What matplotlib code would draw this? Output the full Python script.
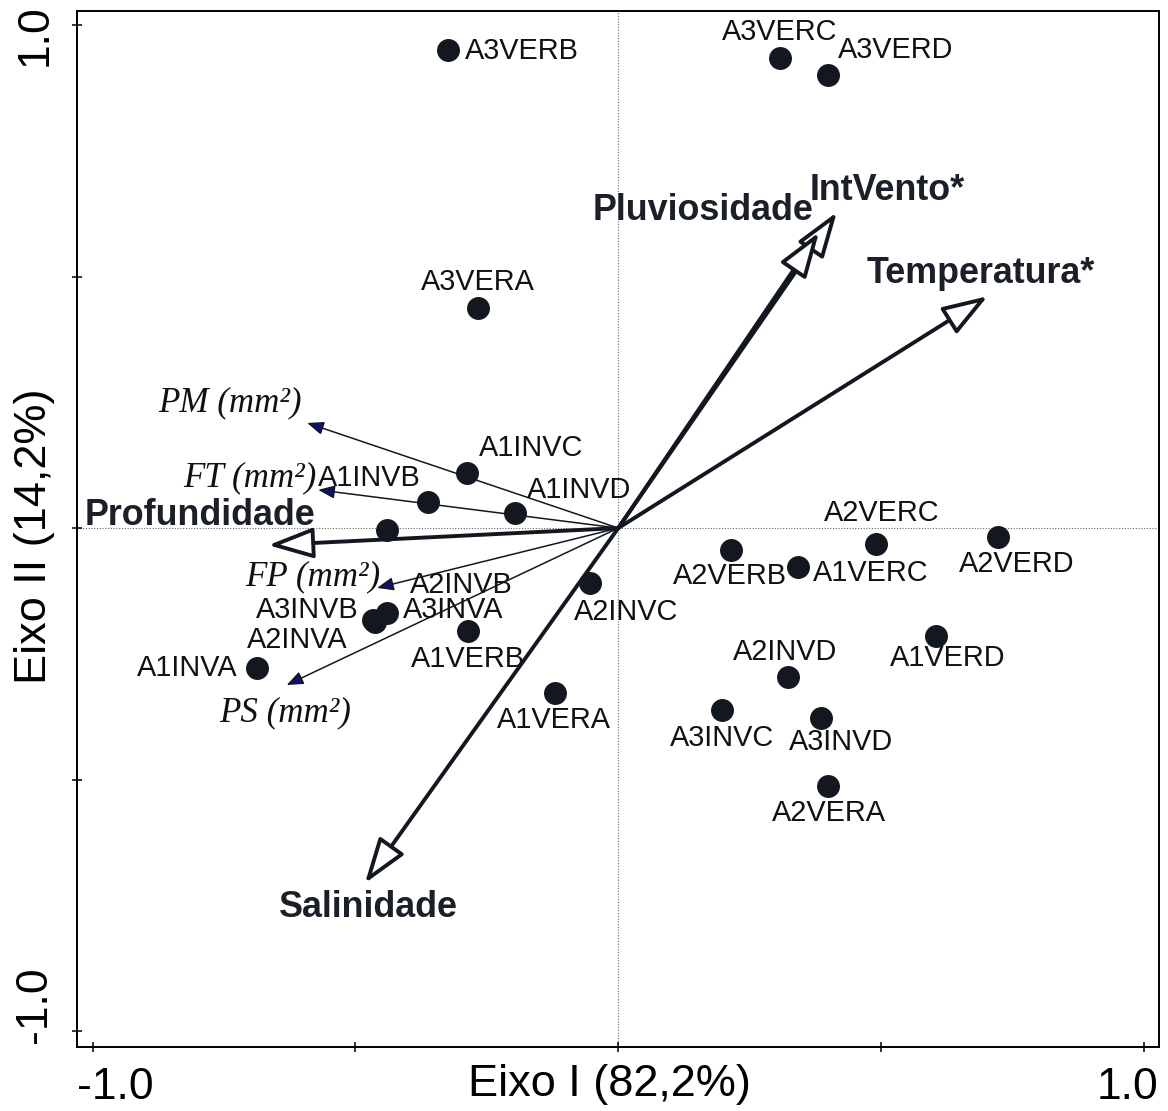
import numpy as np
import matplotlib.pyplot as plt
from matplotlib.transforms import ScaledTranslation


# sample scores (Eixo I, Eixo II)
samples = ["A3VERB", "A3VERC", "A3VERD", "A3VERA", "A1INVC", "A1INVB",
           "A1INVD", "A2INVB", "A3INVA", "A3INVB", "A2INVA", "A1INVA",
           "A1VERB", "A1VERA", "A2INVC", "A2VERB", "A1VERC", "A2VERC",
           "A2VERD", "A2INVD", "A1VERD", "A3INVC", "A3INVD", "A2VERA"]
samp_x = [-0.324, 0.307, 0.399, -0.267, -0.288, -0.362,
          -0.197, -0.440, -0.440, -0.467, -0.463, -0.688,
          -0.286, -0.121, -0.054, 0.214, 0.342, 0.490,
          0.723, 0.323, 0.604, 0.197, 0.385, 0.400]
samp_y = [0.950, 0.934, 0.901, 0.437, 0.109, 0.052,
          0.030, -0.004, -0.169, -0.183, -0.187, -0.278,
          -0.205, -0.328, -0.109, -0.044, -0.078, -0.032,
          -0.018, -0.296, -0.214, -0.362, -0.378, -0.513]

# environmental variables
env_names = ["IntVento*", "Pluviosidade", "Temperatura*", "Profundidade", "Salinidade"]
env_x = [0.416, 0.382, 0.703, -0.666, -0.482]
env_y = [0.628, 0.588, 0.461, -0.034, -0.706]

# species variables
spp_names = ["PM (mm²)", "FT (mm²)", "FP (mm²)", "PS (mm²)"]
spp_x = [-0.592, -0.571, -0.459, -0.631]
spp_y = [0.209, 0.076, -0.119, -0.312]

# label offsets in pixels (layout only)
samp_off = [(74, -1), (0, 26), (68, 25), (0, 26), (64, 25), (-59, 24),
            (64, 23), (74, -55), (66, 3), (-66, 10), (-78, -18), (-69, 0),
            (0, -28), (-1, -27), (36, -29), (-1, -26), (73, -6), (6, 31),
            (18, -27), (-3, 25), (12, -22), (0, -28), (20, -24), (0, -27)]
env_off = [(50, 22), (-116, 22), (-7, 23), (-68, 30), (3, -24)]
spp_off = [(-77, 20), (-68, 12), (-64, 11), (-2, -28)]

dark = "#131720"

fig = plt.figure(figsize=(11.68, 11.11), dpi=100)
ax = fig.add_axes([0.0659, 0.0579, 0.9264, 0.9322])
ax.set_xlim(-1.030, 1.029)
ax.set_ylim(-1.031, 1.028)

ax.axhline(0, color="#666666", lw=0.8, ls=(0, (1, 1.5)), zorder=1)
ax.axvline(0, color="#666666", lw=0.8, ls=(0, (1, 1.5)), zorder=1)

# sample labels
for name, x, y, off in zip(samples, samp_x, samp_y, samp_off):
    ax.annotate(name, (x, y), xytext=off, textcoords="offset pixels",
                ha="center", va="center", fontsize=20.8, color="#111111",
                family="Liberation Sans", zorder=2)

# environmental arrows (open heads)
for name, x, y, off in zip(env_names, env_x, env_y, env_off):
    ax.annotate("", xy=(x, y), xytext=(0, 0),
                arrowprops=dict(arrowstyle="-|>,head_length=28,head_width=9.5",
                                mutation_scale=1, lw=2.8, fc="white", ec=dark,
                                shrinkA=0, shrinkB=0), zorder=3)
    ax.annotate(name, (x, y), xytext=off, textcoords="offset pixels",
                ha="center", va="center", fontsize=25.8, fontweight="bold",
                color="#1b1f27", family="Liberation Sans", zorder=2)

# species arrows (small filled heads)
for name, x, y, off in zip(spp_names, spp_x, spp_y, spp_off):
    ax.annotate("", xy=(x, y), xytext=(0, 0),
                arrowprops=dict(arrowstyle="-|>,head_length=10,head_width=4",
                                mutation_scale=1, lw=1.1, fc="#10106e", ec=dark,
                                shrinkA=0, shrinkB=0), zorder=3)
    ax.annotate(name, (x, y), xytext=off, textcoords="offset pixels",
                ha="center", va="center", fontsize=25.2, style="italic",
                color="#111111", family="Liberation Serif", zorder=2)

ax.plot(samp_x, samp_y, "o", color=dark, markersize=15.5, zorder=4)

# axes styling
for s in ax.spines.values():
    s.set_linewidth(1.4)
ax.set_xticks([-1.0, -0.5, 0.0, 0.5, 1.0], ["-1.0", "", "", "", "1.0"])
ax.set_yticks([-1.0, -0.5, 0.0, 0.5, 1.0], ["-1.0", "", "", "", "1.0"])
ax.tick_params(direction="inout", length=7, width=1.1, labelsize=32)
ax.tick_params(axis="x", pad=11)
ax.tick_params(axis="y", pad=12)
for lab in ax.get_yticklabels():
    lab.set_rotation(90)
    lab.set_va("center")
    lab.set_family("Liberation Sans")
for lab in ax.get_xticklabels():
    lab.set_family("Liberation Sans")

# shift end tick labels like the original
xl = ax.get_xticklabels()
xl[0].set_transform(xl[0].get_transform() + ScaledTranslation(23 / 100, 0, fig.dpi_scale_trans))
xl[-1].set_transform(xl[-1].get_transform() + ScaledTranslation(-16 / 100, 0, fig.dpi_scale_trans))
yl = ax.get_yticklabels()
yl[0].set_transform(yl[0].get_transform() + ScaledTranslation(0, 26 / 100, fig.dpi_scale_trans))
yl[-1].set_transform(yl[-1].get_transform() + ScaledTranslation(0, -10 / 100, fig.dpi_scale_trans))

ax.set_xlabel("Eixo I (82,2%)", fontsize=32.5, family="Liberation Sans")
ax.set_ylabel("Eixo II (14,2%)", fontsize=32.5, family="Liberation Sans")
ax.xaxis.set_label_coords(0.4917, -0.0367)
ax.yaxis.set_label_coords(-0.0388, 0.4924)
ax.xaxis.label.set_va("center")
ax.yaxis.label.set_va("center")
ax.yaxis.label.set_ha("center")

fig.savefig("out.png", dpi=100)
